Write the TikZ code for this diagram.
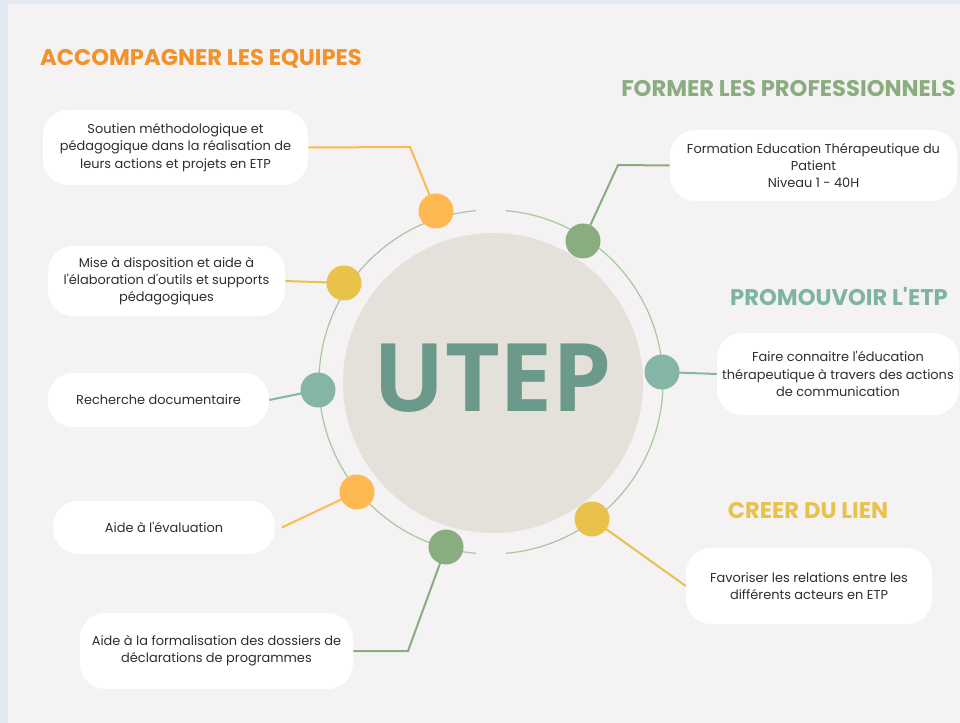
\documentclass[tikz,border=0pt]{standalone}
\usepackage{fontspec}
\setmainfont{Poppins}[Ligatures=TeXOff]
\newfontfamily\hubfont{Open Sans}
\definecolor{bordercol}{HTML}{E1EAF3}
\definecolor{bgcol}{HTML}{F4F2F3}
\definecolor{hubcol}{HTML}{E4E1DB}
\definecolor{ringcol}{HTML}{A9C6A0}
\definecolor{orangec}{HTML}{FFB953}
\definecolor{yellowc}{HTML}{E8C24B}
\definecolor{tealc}{HTML}{85B5A5}
\definecolor{greenc}{HTML}{8AAD80}
\definecolor{ttlorange}{HTML}{F2922A}
\definecolor{ttlgreen}{HTML}{8AAD7F}
\definecolor{ttlteal}{HTML}{7FB4A3}
\definecolor{ttlyellow}{HTML}{E8C24B}
\definecolor{utepcol}{HTML}{6B9A8B}
\definecolor{txt}{HTML}{2E2E2E}
\begin{document}
\begin{tikzpicture}[x=0.75pt,y=-0.75pt,
  box/.style={fill=white, rounded corners=19pt, align=center, text=txt,
    font=\fontsize{9.7}{12.9}\selectfont, inner sep=0},
  dot/.style={circle, minimum size=26.25pt, inner sep=0},
  con/.style={line width=1.5pt},
  ttl/.style={font=\bfseries\fontsize{17}{20}\selectfont, inner sep=0}]
\useasboundingbox (0,0) rectangle (960,723);
\fill[bordercol] (0,0) rectangle (960,723);
\fill[bgcol] (8,4) rectangle (960,723);
% hub
\node[circle, fill=hubcol, minimum size=225pt, inner sep=0] (hub) at (493,383) {};
\coordinate (rc) at (491,382);
\draw[ringcol, line width=0.9pt] (rc) ++(95:129pt) arc[start angle=95, end angle=265, radius=129pt];
\draw[ringcol, line width=0.9pt] (rc) ++(-85:129pt) arc[start angle=-85, end angle=85, radius=129pt];
\node[font=\hubfont\bfseries\fontsize{71}{71}\selectfont, text=utepcol, inner sep=0] (utep) at (493,378) {UTEP};
% boxes
\node[box, minimum width=198.75pt, minimum height=56.25pt] (b1) at (175.5,147.5)
  {Soutien méthodologique et\\pédagogique dans la réalisation de\\leurs actions et projets en ETP};
\node[box, minimum width=177.75pt, minimum height=52.5pt] (b2) at (166.5,281)
  {Mise à disposition et aide à\\l'élaboration d'outils et supports\\pédagogiques};
\node[box, minimum width=165.75pt, minimum height=40.5pt] (b3) at (158.5,400)
  {Recherche documentaire};
\node[box, minimum width=166.5pt, minimum height=39.75pt] (b4) at (164,527.5)
  {Aide à l'évaluation};
\node[box, minimum width=204.75pt, minimum height=57pt] (b5) at (216.5,651)
  {Aide à la formalisation des dossiers de\\déclarations de programmes};
\node[box, minimum width=215.25pt, minimum height=53.25pt] (b6) at (813.5,165.5)
  {Formation Education Thérapeutique du\\Patient\\Niveau 1 - 40H};
\node[box, minimum width=181.5pt, minimum height=61.5pt] (b7) at (838,374)
  {Faire connaitre l'éducation\\thérapeutique à travers des actions\\de communication};
\node[box, minimum width=184.5pt, minimum height=57pt] (b8) at (809,586)
  {Favoriser les relations entre les\\différents acteurs en ETP};
% dot positions and bends
\coordinate (p1) at (436,211);
\coordinate (p2) at (344,283);
\coordinate (p3) at (318,390);
\coordinate (p4) at (357,492);
\coordinate (p5) at (446,547);
\coordinate (p6) at (583,241);
\coordinate (p7) at (662,372);
\coordinate (p8) at (592,519);
\coordinate (k1) at (410,147);
\coordinate (k5) at (408,651);
\coordinate (k6) at (618,165);
% connectors
\draw[con, orangec] (b1.east) -- (k1) -- (p1);
\draw[con, yellowc] (b2.east) -- (p2);
\draw[con, tealc] (b3.east) -- (p3);
\draw[con, orangec] ([xshift=5pt]b4.east) -- (p4);
\draw[con, greenc] (b5.east) -- (k5) -- (p5);
\draw[con, greenc] (b6.west) -- (k6) -- (p6);
\draw[con, tealc] (p7) -- (b7.west);
\draw[con, yellowc] (p8) -- (b8.west);
% dots
\node[dot, fill=orangec] (d1) at (p1) {};
\node[dot, fill=yellowc] (d2) at (p2) {};
\node[dot, fill=tealc] (d3) at (p3) {};
\node[dot, fill=orangec] (d4) at (p4) {};
\node[dot, fill=greenc] (d5) at (p5) {};
\node[dot, fill=greenc] (d6) at (p6) {};
\node[dot, fill=tealc] (d7) at (p7) {};
\node[dot, fill=yellowc] (d8) at (p8) {};
% titles
\node[ttl, text=ttlorange] (t1) at (201,59) {ACCOMPAGNER LES EQUIPES};
\node[ttl, text=ttlgreen] (t2) at (788.5,89) {FORMER LES PROFESSIONNELS};
\node[ttl, text=ttlteal] (t3) at (839,297) {PROMOUVOIR L'ETP};
\node[ttl, text=ttlyellow] (t4) at (808,511) {CREER DU LIEN};
\end{tikzpicture}
\end{document}
